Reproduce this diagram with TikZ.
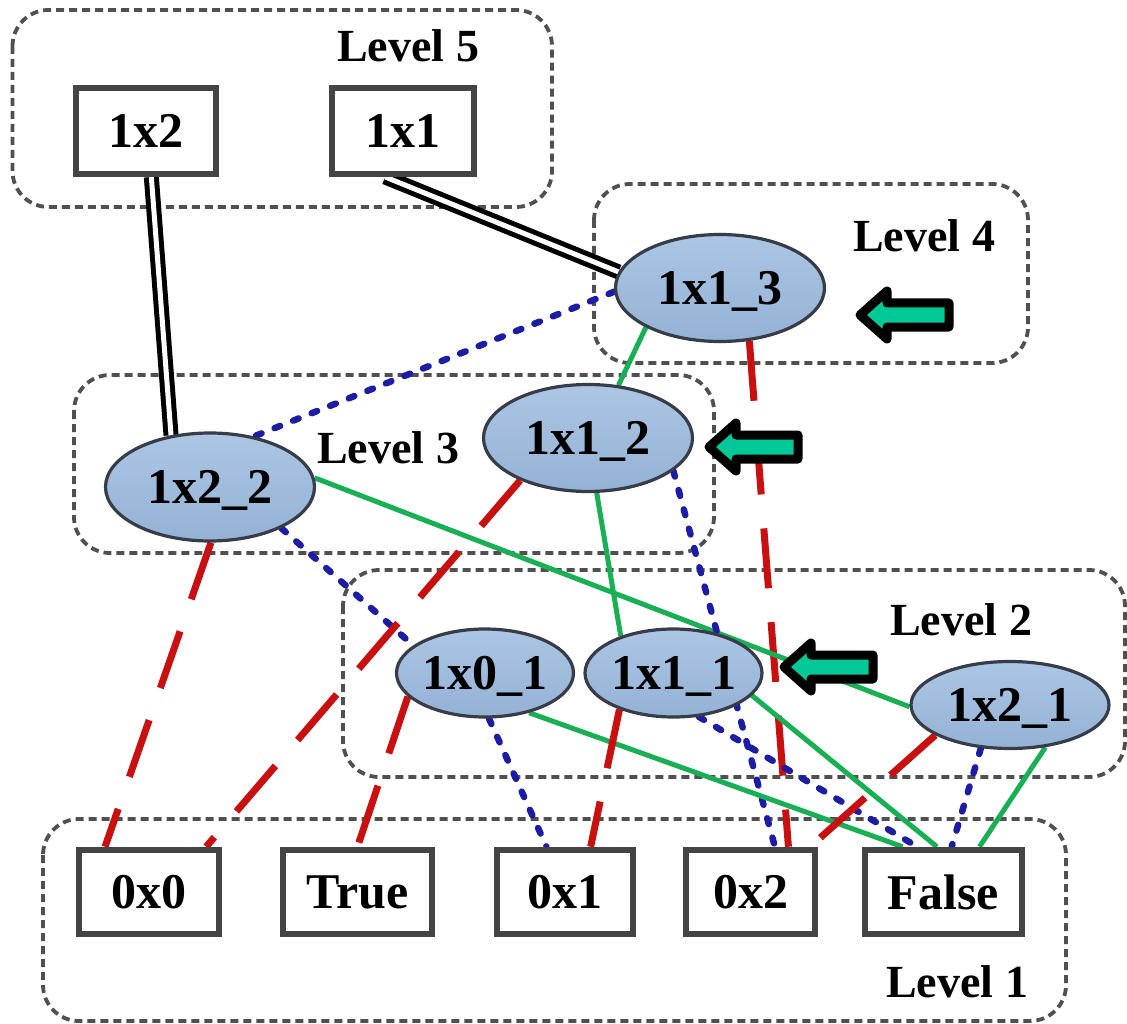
\documentclass[tikz,border=0pt]{standalone}
\usepackage{fontspec}
\setmainfont{Liberation Serif}
\usetikzlibrary{shapes.geometric,calc,shadows}

\definecolor{framegray}{RGB}{80,80,80}
\definecolor{boxedge}{RGB}{68,68,68}
\definecolor{elledge}{RGB}{55,60,72}
\definecolor{elltop}{RGB}{172,198,228}
\definecolor{ellbot}{RGB}{148,178,213}
\definecolor{redc}{RGB}{200,16,16}
\definecolor{bluec}{RGB}{28,28,165}
\definecolor{greenc}{RGB}{25,175,85}
\definecolor{arrowc}{RGB}{0,200,150}

\pgfdeclarelayer{bg}
\pgfdeclarelayer{links}
\pgfsetlayers{bg,links,main}

\newcommand{\nodefont}{\fontsize{50}{56}\selectfont\bfseries}
\newcommand{\levelfont}{\fontsize{46}{52}\selectfont\bfseries}

\tikzset{
  levelframe/.style={draw=framegray, line width=3.8pt, dash pattern=on 8pt off 5pt, rounded corners=36pt},
  termbox/.style={draw=boxedge, line width=6pt, fill=white, inner sep=0pt, text depth=0pt,
    font=\nodefont, drop shadow={opacity=0.22, shadow xshift=2pt, shadow yshift=-3pt}},
  ellnode/.style={ellipse, draw=elledge, line width=3.2pt, top color=elltop, bottom color=ellbot,
    inner sep=0pt, text depth=0pt, font=\nodefont},
  levellabel/.style={anchor=base west, inner sep=0pt, font=\levelfont},
  redln/.style={draw=redc, line width=7pt, dash pattern=on 60pt off 34pt},
  blueln/.style={draw=bluec, line width=6.5pt, line cap=round, dash pattern=on 6pt off 14pt},
  greenln/.style={draw=greenc, line width=5pt},
  dblln/.style={draw=black, line width=5pt, double=white, double distance=5pt},
  pics/leftarrow/.style={code={
    \draw[draw=black, fill=arrowc, line width=9pt, line join=round]
      (0,0) -- (27,-24) -- (27,-12) -- (89,-12) -- (89,12) -- (27,12) -- (27,24) -- cycle;}}
}

\begin{document}
\begin{tikzpicture}[x=1pt,y=-1pt]
\useasboundingbox (0,0) rectangle (1127,1024);

% level 5 terminals
\node[termbox, minimum width=140pt, minimum height=86pt] (b12) at (145.5,131) {1x2};
\node[termbox, minimum width=142pt, minimum height=86pt] (b11) at (403,131) {1x1};

% level 1 terminals
\node[termbox, minimum width=140.5pt, minimum height=84.5pt] (z0) at (149,892) {0x0};
\node[termbox, minimum width=149.5pt, minimum height=84.5pt] (tr) at (357.5,892) {True};
\node[termbox, minimum width=136.5pt, minimum height=84.5pt] (z1) at (565,892) {0x1};
\node[termbox, minimum width=129.5pt, minimum height=84.5pt] (z2) at (750.5,892) {0x2};
\node[termbox, minimum width=157.5pt, minimum height=84.5pt] (fl) at (943.5,892) {False};

% decision nodes
\node[ellnode, minimum width=209pt, minimum height=107pt] (e13) at (720,288) {1x1\_3};
\node[ellnode, minimum width=209pt, minimum height=107pt] (e12) at (588,438) {1x1\_2};
\node[ellnode, minimum width=209pt, minimum height=108pt] (e22) at (210,487) {1x2\_2};
\node[ellnode, minimum width=177pt, minimum height=88pt] (e01) at (485,673) {1x0\_1};
\node[ellnode, minimum width=177pt, minimum height=88pt] (e11) at (673.5,673) {1x1\_1};
\node[ellnode, minimum width=198pt, minimum height=87pt] (e21) at (1010,705) {1x2\_1};

% level labels
\node[levellabel] (l5) at (337,62) {Level 5};
\node[levellabel] (l4) at (853,252) {Level 4};
\node[levellabel] (l3) at (317,463) {Level 3};
\node[levellabel] (l2) at (890,635) {Level 2};
\node[levellabel] (l1) at (886,997) {Level 1};

% dashed level frames
\begin{pgfonlayer}{bg}
  \draw[levelframe] (12.5,10) rectangle (552,207);
  \draw[levelframe] (594,184) rectangle (1028,363);
  \draw[levelframe] (74,375) rectangle (714,553);
  \draw[levelframe] (343,570) rectangle (1125,777);
  \draw[levelframe] (43,819) rectangle (1066,1021);
\end{pgfonlayer}

% connectors
\begin{pgfonlayer}{links}
  \draw[dblln] ($(b12.south west)!0.54!(b12.south east)$) -- (e22.127);
  \draw[dblln] ($(b11.south west)!0.38!(b11.south east)$) -- (e13.171);

  \draw[blueln] (e13.182) -- (e22.49);
  \draw[greenln] (e13.208) -- (e12.60);
  \draw[redln] (e13.-61) -- ($(z2.north west)!0.78!(z2.north east)$);

  \draw[greenln] (e22.5) -- (e21.181);
  \draw[redln] (e22.271) -- ($(z0.north west)!0.2!(z0.north east)$);
  \draw[blueln] (e22.330) -- (e01.159);

  \draw[greenln] (e12.279) -- (e11.145);
  \draw[redln] (e12.212) -- ($(z0.north west)!0.89!(z0.north east)$);
  \draw[blueln] (e12.339) -- ($(z2.north west)!0.68!(z2.north east)$);

  \draw[redln] (e01.197) -- (tr.north);
  \draw[blueln] (e01.275) -- ($(z1.north west)!0.37!(z1.north east)$);
  \draw[greenln] (e01.318) -- ($(fl.north west)!0.25!(fl.north east)$);

  \draw[redln] (e11.214) -- ($(z1.north west)!0.68!(z1.north east)$);
  \draw[blueln] (e11.300) -- ($(fl.north west)!0.34!(fl.north east)$);
  \draw[greenln] (e11.344) -- ($(fl.north west)!0.46!(fl.north east)$);

  \draw[redln] (e21.202) -- ($(z2.north west)!0.94!(z2.north east)$);
  \draw[blueln] (e21.236) -- ($(fl.north west)!0.55!(fl.north east)$);
  \draw[greenln] (e21.310) -- ($(fl.north west)!0.72!(fl.north east)$);
\end{pgfonlayer}

% pointer arrows
\pic at (860,315) {leftarrow};
\pic at (709,447) {leftarrow};
\pic at (784,667) {leftarrow};
\end{tikzpicture}
\end{document}
